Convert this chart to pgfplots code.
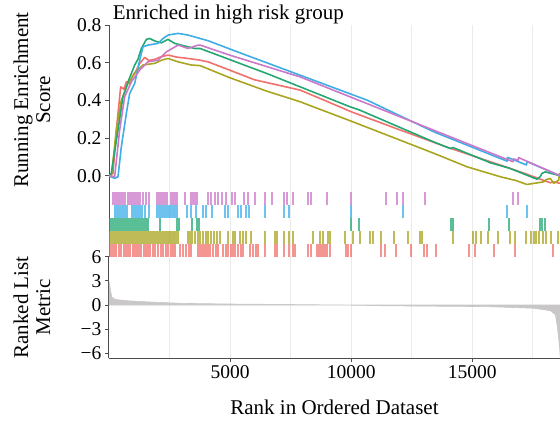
\documentclass[border=0pt]{standalone}
\usepackage{fontspec}
\setmainfont{Liberation Serif}
\usepackage{pgfplots}
\pgfplotsset{compat=1.18}
\definecolor{cRed}{HTML}{F0716C}
\definecolor{cOlive}{HTML}{A9A520}
\definecolor{cGreen}{HTML}{23A873}
\definecolor{cBlue}{HTML}{3DAEE8}
\definecolor{cPink}{HTML}{CB78C8}
\definecolor{axisgray}{HTML}{4D4D4D}
\definecolor{gridgray}{HTML}{EBEBEB}
\definecolor{metricgray}{HTML}{C9C7C7}
\begin{document}
\begin{tikzpicture}
\useasboundingbox (0pt,0pt) rectangle (560pt,426pt);
\pgfplotsset{
  common/.style={
    scale only axis, width=451pt, xmin=0, xmax=18620,
    scaled x ticks=false, scaled y ticks=false,
    xtick={5000,10000,15000}, minor xtick={2500,7500,12500,17500},
    xmajorgrids, xminorgrids,
    major grid style={gridgray, line width=0.8pt},
    minor grid style={gridgray, line width=0.8pt},
    tick style={axisgray, line width=0.9pt},
    tick align=outside, major tick length=4pt, minor tick length=0pt,
    axis line style={axisgray, line width=1pt},
    tick label style={font=\fontsize{19.5}{20}\selectfont, text=black},
    axis y line*=left, axis x line*=bottom,
  },
  esline/.style={line width=1.6pt, line join=round},
  rug/.style={only marks, mark=|, mark size=6.4pt, mark options={line width=1.6pt, opacity=0.75}},
}
% ---------- top: running enrichment score ----------
\begin{axis}[common, at={(109pt,237pt)}, anchor=south west, height=163.9pt,
  ymin=-0.07, ymax=0.8,
  ytick={0,0.2,0.4,0.6,0.8}, yticklabels={0.0,0.2,0.4,0.6,0.8},
  xticklabels={}, x axis line style={draw=none}, xtick style={draw=none}]
\addplot[esline, cRed] coordinates {(0,0) (165,0.013) (303,0.243) (482,0.472) (620,0.46) (716,0.499) (850,0.49) (992,0.534) (1130,0.56) (1267,0.597) (1474,0.628) (1650,0.612) (1887,0.618) (2100,0.63) (2438,0.641) (2800,0.63) (3264,0.623) (3700,0.615) (4091,0.605) (5000,0.56) (6000,0.51) (7892,0.455) (9000,0.395) (10000,0.34) (12024,0.243) (14000,0.15) (16156,0.057) (17000,0.02) (18222,-0.037) (18338,-0.032) (18630,-0.04)};
\addplot[esline, cOlive] coordinates {(0,0) (95,-0.005) (303,0.243) (510,0.402) (785,0.49) (1061,0.544) (1250,0.57) (1405,0.588) (1887,0.597) (2200,0.615) (2438,0.623) (2851,0.605) (3402,0.588) (3760,0.585) (5000,0.52) (6500,0.45) (7892,0.393) (10000,0.29) (12024,0.189) (13500,0.115) (14779,0.048) (16156,-0.005) (16800,-0.025) (17258,-0.046) (17946,-0.032) (18050,-0.02) (18222,-0.014) (18360,-0.04) (18566,-0.023) (18600,0.015)};
\addplot[esline, cGreen] coordinates {(0,0) (95,0.013) (372,0.243) (578,0.419) (785,0.499) (1061,0.588) (1200,0.62) (1336,0.676) (1543,0.724) (1680,0.729) (1900,0.715) (2163,0.706) (2300,0.715) (2438,0.724) (2713,0.703) (3100,0.69) (3540,0.676) (3760,0.676) (6516,0.543) (9958,0.366) (10330,0.35) (13401,0.18) (14090,0.145) (14207,0.15) (15694,0.072) (15743,0.069) (16520,0.041) (17671,-0.018) (17800,-0.005) (17878,0.013) (18007,0.021) (18630,0.0)};
\addplot[esline, cBlue] coordinates {(0,0) (234,-0.014) (372,-0.005) (510,0.154) (716,0.331) (854,0.437) (1061,0.49) (1267,0.614) (1405,0.685) (1611,0.694) (2025,0.703) (2231,0.729) (2438,0.747) (2851,0.756) (3264,0.747) (4091,0.717) (5467,0.65) (7892,0.534) (10648,0.402) (13401,0.234) (16156,0.092) (16437,0.078) (16450,0.098) (17230,0.058) (17263,0.075) (18630,0.0)};
\addplot[esline, cPink] coordinates {(0,0) (234,-0.005) (440,0.243) (647,0.419) (923,0.499) (1267,0.561) (1611,0.605) (2025,0.614) (2369,0.658) (2851,0.694) (3264,0.676) (3677,0.694) (3760,0.694) (5000,0.64) (7892,0.525) (12024,0.313) (16156,0.101) (16685,0.075) (16700,0.09) (16892,0.082) (16905,0.097) (18630,0.0)};
\end{axis}
% ---------- middle: rug ----------
\begin{axis}[common, at={(109pt,169.3pt)}, anchor=south west, height=67.7pt,
  ymin=0, ymax=5.2077, ytick=\empty,
  xticklabels={}, x axis line style={draw=none}, xtick style={draw=none}]
\addplot[rug, cRed] coordinates {(41,0.5) (124,0.5) (207,0.5) (289,0.5) (413,0.5) (496,0.5) (620,0.5) (702,0.5) (785,0.5) (867,0.5) (991,0.5) (1074,0.5) (1156,0.5) (1239,0.5) (1322,0.5) (1445,0.5) (1528,0.5) (1611,0.5) (1693,0.5) (1817,0.5) (1900,0.5) (2024,0.5) (2148,0.5) (2230,0.5) (2354,0.5) (2437,0.5) (2561,0.5) (2643,0.5) (2726,0.5) (2932,0.5) (3056,0.5) (3180,0.5) (3304,0.5) (3387,0.5) (3676,0.5) (3758,0.5) (3841,0.5) (3924,0.5) (4006,0.5) (4089,0.5) (4171,0.5) (4295,0.5) (4419,0.5) (4502,0.5) (4709,0.5) (4832,0.5) (4915,0.5) (5039,0.5) (5121,0.5) (5204,0.5) (5328,0.5) (5452,0.5) (5534,0.5) (5824,0.5) (5947,0.5) (6071,0.5) (6154,0.5) (6443,0.5) (6856,0.5) (6939,0.5) (7228,0.5) (7434,0.5) (7599,0.5) (7682,0.5) (8219,0.5) (8343,0.5) (8590,0.5) (8673,0.5) (8756,0.5) (8838,0.5) (8921,0.5) (9004,0.5) (9127,0.5) (9788,0.5) (9871,0.5) (9995,0.5) (11234,0.5) (11400,0.5) (11854,0.5) (12473,0.5) (13010,0.5) (13134,0.5) (13506,0.5) (14869,0.5) (15116,0.5) (15901,0.5) (16768,0.5) (18338,0.5)};
\addplot[rug, cOlive] coordinates {(41,1.5) (124,1.5) (207,1.5) (289,1.5) (372,1.5) (454,1.5) (537,1.5) (620,1.5) (702,1.5) (785,1.5) (867,1.5) (950,1.5) (1033,1.5) (1115,1.5) (1198,1.5) (1280,1.5) (1363,1.5) (1445,1.5) (1528,1.5) (1611,1.5) (1693,1.5) (1776,1.5) (1859,1.5) (1941,1.5) (2024,1.5) (2106,1.5) (2189,1.5) (2272,1.5) (2354,1.5) (2437,1.5) (2519,1.5) (2602,1.5) (2685,1.5) (2767,1.5) (2850,1.5) (3263,1.5) (3345,1.5) (3428,1.5) (3552,1.5) (3676,1.5) (3758,1.5) (3882,1.5) (4006,1.5) (4089,1.5) (4213,1.5) (4337,1.5) (4461,1.5) (4585,1.5) (4915,1.5) (5121,1.5) (5204,1.5) (5410,1.5) (5534,1.5) (5659,1.5) (5865,1.5) (6443,1.5) (6856,1.5) (6939,1.5) (7228,1.5) (7434,1.5) (7599,1.5) (8425,1.5) (8714,1.5) (8838,1.5) (9045,1.5) (9127,1.5) (9747,1.5) (10077,1.5) (10366,1.5) (10779,1.5) (10903,1.5) (11234,1.5) (11771,1.5) (12349,1.5) (12845,1.5) (12927,1.5) (14207,1.5) (15033,1.5) (15157,1.5) (15364,1.5) (15653,1.5) (16066,1.5) (16562,1.5) (16768,1.5) (17223,1.5) (17429,1.5) (17553,1.5) (17636,1.5) (17760,1.5) (17925,1.5) (18049,1.5) (18256,1.5) (18545,1.5)};
\addplot[rug, cGreen] coordinates {(41,2.5) (124,2.5) (207,2.5) (289,2.5) (372,2.5) (454,2.5) (537,2.5) (620,2.5) (702,2.5) (785,2.5) (867,2.5) (950,2.5) (1033,2.5) (1115,2.5) (1198,2.5) (1280,2.5) (1363,2.5) (1445,2.5) (1528,2.5) (1611,2.5) (2106,2.5) (2808,2.5) (2891,2.5) (3428,2.5) (3634,2.5) (3717,2.5) (9995,2.5) (10325,2.5) (14125,2.5) (14207,2.5) (15694,2.5) (16520,2.5) (17800,2.5) (17883,2.5) (18007,2.5)};
\addplot[rug, cBlue] coordinates {(248,3.5) (330,3.5) (413,3.5) (496,3.5) (578,3.5) (661,3.5) (743,3.5) (950,3.5) (1033,3.5) (1115,3.5) (1198,3.5) (1280,3.5) (1363,3.5) (1487,3.5) (1652,3.5) (1982,3.5) (2065,3.5) (2148,3.5) (2230,3.5) (2313,3.5) (2395,3.5) (2478,3.5) (2561,3.5) (2643,3.5) (2726,3.5) (2808,3.5) (3221,3.5) (3387,3.5) (3593,3.5) (3882,3.5) (4006,3.5) (4254,3.5) (4791,3.5) (4915,3.5) (5328,3.5) (5452,3.5) (5659,3.5) (5782,3.5) (6443,3.5) (7228,3.5) (7434,3.5) (9995,3.5) (12143,3.5) (16437,3.5) (17263,3.5)};
\addplot[rug, cPink] coordinates {(165,4.5) (248,4.5) (330,4.5) (413,4.5) (496,4.5) (578,4.5) (661,4.5) (785,4.5) (867,4.5) (950,4.5) (1033,4.5) (1115,4.5) (1198,4.5) (1280,4.5) (1404,4.5) (1528,4.5) (1652,4.5) (1982,4.5) (2065,4.5) (2148,4.5) (2230,4.5) (2313,4.5) (2395,4.5) (2561,4.5) (2643,4.5) (2726,4.5) (2808,4.5) (3139,4.5) (3387,4.5) (3469,4.5) (3552,4.5) (3634,4.5) (4089,4.5) (4213,4.5) (4378,4.5) (4502,4.5) (4667,4.5) (4832,4.5) (5080,4.5) (5204,4.5) (5576,4.5) (5741,4.5) (6030,4.5) (6443,4.5) (6732,4.5) (7228,4.5) (7351,4.5) (7599,4.5) (8219,4.5) (8343,4.5) (9004,4.5) (9995,4.5) (11441,4.5) (11895,4.5) (12143,4.5) (13051,4.5) (16685,4.5) (16892,4.5)};
\end{axis}
% ---------- bottom: ranked list metric ----------
\begin{axis}[common, at={(109pt,67.7pt)}, anchor=south west, height=101.6pt,
  ymin=-6.62, ymax=6,
  ytick={-6,-3,0,3,6}, yticklabels={−6,−3,0,3,6},
  xticklabels={5000,10000,15000}]
\addplot[fill=metricgray, draw=metricgray, line width=0.6pt] coordinates {(0,0) (1,3.0) (41,2.3) (112,1.0) (248,0.7) (731,0.53) (1694,0.37) (3058,0.2) (5124,0.12) (7892,0.05) (9500,0.0) (11487,-0.1) (15619,-0.2) (17520,-0.4) (18222,-0.7) (18429,-1.2) (18512,-2.7) (18594,-5.0) (18630,-6.5) (18630,0)} \closedcycle;
\end{axis}
% ---------- texts ----------
\node[anchor=base west, font=\fontsize{21}{23}\selectfont, inner sep=0pt] at (112.7pt,406pt) {Enriched in high risk group};
\node[anchor=base, font=\fontsize{21}{23}\selectfont, inner sep=0pt] at (334.5pt,11pt) {Rank in Ordered Dataset};
\node[rotate=90, align=center, font=\fontsize{21}{22}\selectfont, inner sep=0pt] at (32pt,326pt) {Running Enrichment\\Score};
\node[rotate=90, align=center, font=\fontsize{21}{22}\selectfont, inner sep=0pt] at (32pt,118.5pt) {Ranked List\\Metric};
\end{tikzpicture}
\end{document}
